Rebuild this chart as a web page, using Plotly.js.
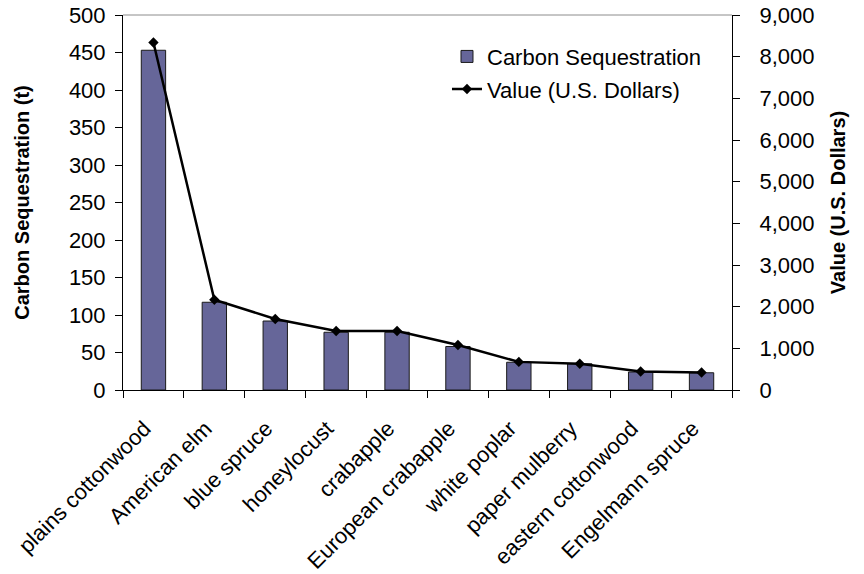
<!DOCTYPE html>
<html>
<head>
<meta charset="utf-8">
<script src="https://cdn.plot.ly/plotly-3.0.1.min.js"></script>
<style>
  html, body { margin: 0; padding: 0; background: #ffffff; }
  #chart { width: 864px; height: 574px; }
</style>
</head>
<body>
<div id="chart"></div>
<script>
// Tree species, ranked by carbon stored
const categories = [
  'plains cottonwood', 'American elm', 'blue spruce', 'honeylocust', 'crabapple',
  'European crabapple', 'white poplar', 'paper mulberry', 'eastern cottonwood', 'Engelmann spruce'
];
// Carbon sequestration, tonnes
const carbonTonnes = [453, 117, 92, 77, 77, 58, 37, 35, 24, 23];
// Dollar value of the sequestered carbon
const valueDollars = [8340, 2165, 1705, 1415, 1415, 1080, 675, 630, 445, 420];

const carbonTicks = [0, 50, 100, 150, 200, 250, 300, 350, 400, 450, 500];
const valueTicks = [0, 1000, 2000, 3000, 4000, 5000, 6000, 7000, 8000, 9000];

const FONT = 'Liberation Sans, Arial, sans-serif';
const FS = 22;

const traces = [
  {
    type: 'bar',
    name: 'Carbon Sequestration',
    x: categories,
    y: carbonTonnes,
    width: 0.4,
    marker: { color: '#666699', line: { color: '#1a1a1a', width: 1 } },
    legend: 'legend',
    xaxis: 'x', yaxis: 'y'
  },
  {
    type: 'scatter',
    mode: 'lines+markers',
    name: 'Value (U.S. Dollars)',
    x: categories,
    y: valueDollars,
    line: { color: '#000000', width: 2.5 },
    marker: { symbol: 'diamond', size: 8, color: '#000000' },
    legend: 'legend2',
    xaxis: 'x', yaxis: 'y2'
  }
];

const axisLine = { showline: true, linecolor: '#000000', linewidth: 1, showgrid: false, zeroline: false };

const layout = {
  width: 864,
  height: 574,
  margin: { l: 123, r: 132, t: 15, b: 184, pad: 0 },
  paper_bgcolor: '#ffffff',
  plot_bgcolor: '#ffffff',
  font: { family: FONT, size: FS, color: '#000000' },
  bargap: 0.6,
  xaxis: Object.assign({}, axisLine, {
    type: 'category',
    range: [-0.5, categories.length - 0.5],
    tickson: 'boundaries',
    ticks: 'outside', ticklen: 7, tickcolor: '#000000',
    tickangle: -45,
    ticklabelstandoff: 16,
    ticklabelshift: -9,
    tickfont: { family: FONT, size: FS }
  }),
  // inner half of the crossing ticks on the category axis
  xaxis2: {
    overlaying: 'x', anchor: 'y', side: 'bottom',
    range: [-0.5, categories.length - 0.5],
    tick0: -0.5, dtick: 1,
    ticks: 'inside', ticklen: 7, tickcolor: '#000000',
    showticklabels: false, showgrid: false, zeroline: false, showline: false
  },
  yaxis: Object.assign({}, axisLine, {
    range: [0, 500],
    tickvals: carbonTicks,
    ticks: 'outside', ticklen: 7, tickcolor: '#000000',
    ticklabelstandoff: 5,
    tickfont: { family: FONT, size: FS },
    title: { text: 'Carbon Sequestration (t)', font: { family: FONT, size: 20, weight: 'bold' }, standoff: 33 }
  }),
  yaxis2: Object.assign({}, axisLine, {
    overlaying: 'y', side: 'right', anchor: 'x',
    range: [0, 9000],
    tickvals: valueTicks,
    tickformat: ',',
    ticks: 'outside', ticklen: 7, tickcolor: '#000000',
    ticklabelstandoff: 15,
    tickfont: { family: FONT, size: FS },
    title: { text: 'Value (U.S. Dollars)', font: { family: FONT, size: 20, weight: 'bold' }, standoff: 17 }
  }),
  // inner halves of the crossing ticks on both value axes
  yaxis3: {
    overlaying: 'y', side: 'left', anchor: 'x',
    range: [0, 500], tickvals: carbonTicks,
    ticks: 'inside', ticklen: 7, tickcolor: '#000000',
    showticklabels: false, showgrid: false, zeroline: false, showline: false
  },
  yaxis4: {
    overlaying: 'y', side: 'right', anchor: 'x',
    range: [0, 9000], tickvals: valueTicks,
    ticks: 'inside', ticklen: 7, tickcolor: '#000000',
    showticklabels: false, showgrid: false, zeroline: false, showline: false
  },
  showlegend: true,
  legend: {
    x: 0.532, y: 0.945, xanchor: 'left', yanchor: 'top',
    bgcolor: 'rgba(0,0,0,0)', borderwidth: 0,
    font: { family: FONT, size: FS }
  },
  legend2: {
    x: 0.532, y: 0.858, xanchor: 'left', yanchor: 'top',
    bgcolor: 'rgba(0,0,0,0)', borderwidth: 0,
    font: { family: FONT, size: FS }
  },
  shapes: [
    // plot area border along the top edge
    { type: 'line', xref: 'paper', yref: 'paper', x0: 0, x1: 1, y0: 1, y1: 1,
      line: { color: '#8c8c8c', width: 1 }, layer: 'below' }
  ]
};

Plotly.newPlot('chart', traces, layout, { displayModeBar: false, staticPlot: true });
</script>
</body>
</html>
